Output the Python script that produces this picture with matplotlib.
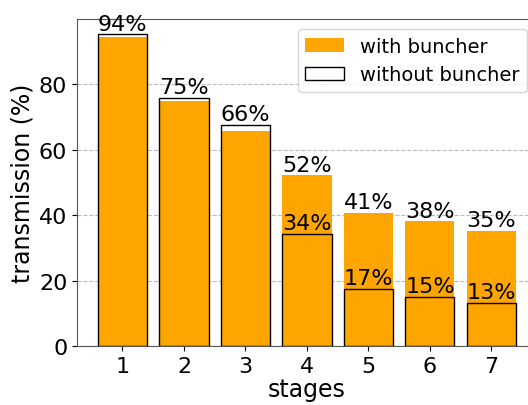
import matplotlib
matplotlib.use("Agg")
import matplotlib.pyplot as plt
import numpy as np

stages = [1, 2, 3, 4, 5, 6, 7]
with_buncher = [94.4, 74.9, 65.7, 52.2, 40.8, 38.1, 35.2]
without_buncher = [95.3, 75.9, 67.6, 34.4, 17.4, 15.0, 13.3]
# stages where the "without buncher" value is annotated as well
labeled_without = [4, 5, 6, 7]

fig = plt.figure(figsize=(5.28, 4.06), dpi=100)
ax = fig.add_axes([0.1458, 0.1453, 0.871, 0.8054])

ax.bar(stages, with_buncher, width=0.8, color="orange", label="with buncher", zorder=2)
ax.bar(stages, without_buncher, width=0.8, fill=False, edgecolor="black",
       linewidth=1.0, label="without buncher", zorder=3)

for s, w, wo in zip(stages, with_buncher, without_buncher):
    ax.text(s, max(w, wo) + 0.2, f"{round(w)}%", ha="center", va="bottom", fontsize=16)
    if s in labeled_without:
        ax.text(s, wo + 0.2, f"{round(wo)}%", ha="center", va="bottom", fontsize=16)

ax.set_ylim(0, 100)
ax.set_xticks(stages)
ax.set_yticks([0, 20, 40, 60, 80])
ax.tick_params(labelsize=16)
ax.set_xlabel("stages", fontsize=17, labelpad=1)
ax.set_ylabel("transmission (%)", fontsize=17, labelpad=3)
ax.yaxis.grid(True, linestyle="--", color="#bbbbbb", linewidth=0.8, zorder=0)
ax.set_axisbelow(True)
for sp in ax.spines.values():
    sp.set_color("#555555")

ax.legend(loc="upper right", fontsize=14)

fig.savefig("out.png", dpi=100)
